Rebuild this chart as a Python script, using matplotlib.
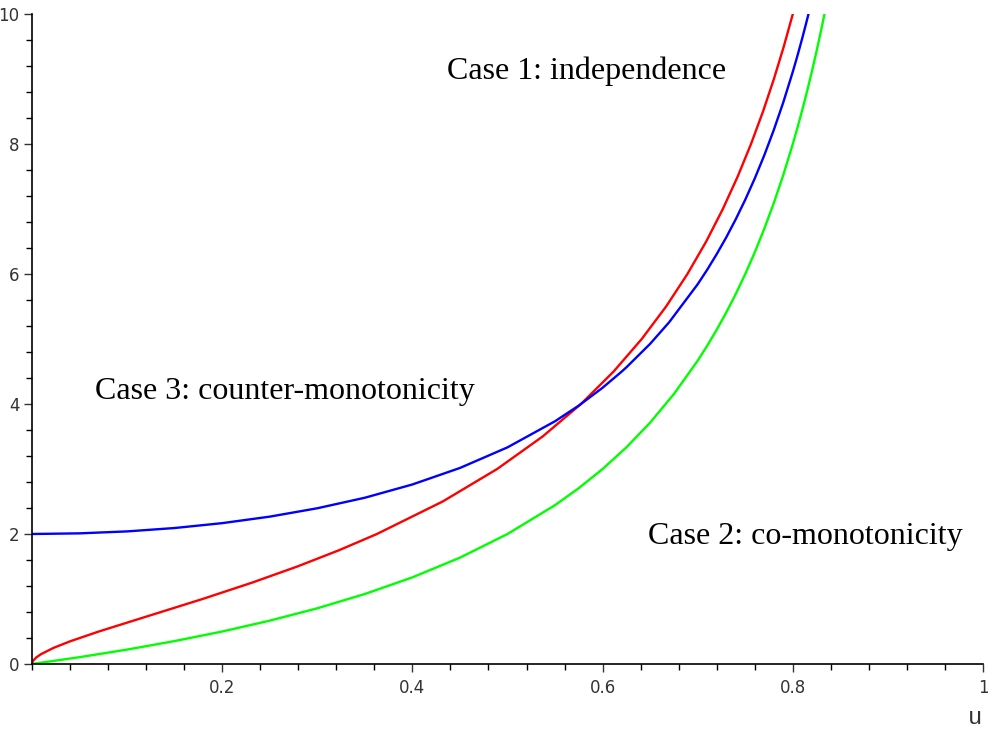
import matplotlib
matplotlib.use("Agg")
import matplotlib.pyplot as plt
from matplotlib.ticker import MultipleLocator

# Case 1: independence (red)
u_red = [0.0, 0.000195, 0.001171, 0.0044, 0.009297, 0.02295, 0.040252, 0.07025, 0.12473,
         0.17930, 0.231066, 0.27897, 0.322795, 0.36267, 0.43183, 0.48910, 0.53692,
         0.57725, 0.61161, 0.64115, 0.66678, 0.68919, 0.70893, 0.72643, 0.74205,
         0.75606, 0.76868, 0.78012, 0.79053, 0.80003]
v_red = [0.0, 0.02, 0.05, 0.1, 0.15, 0.25, 0.35, 0.5, 0.75, 1.0, 1.25, 1.5, 1.75, 2.0,
         2.5, 3.0, 3.5, 4.0, 4.5, 5.0, 5.5, 6.0, 6.5, 7.0, 7.5, 8.0, 8.5, 9.0, 9.5, 10.0]

# Case 3: counter-monotonicity (blue)
u_blue = [0.0, 0.05, 0.1, 0.15, 0.2, 0.25, 0.3, 0.35, 0.4, 0.45, 0.5, 0.55, 0.575, 0.6,
          0.62, 0.625, 0.65, 0.67, 0.7, 0.71, 0.72, 0.73, 0.74, 0.75, 0.76, 0.77, 0.78,
          0.79, 0.8, 0.805, 0.81, 0.8135, 0.8165]
v_blue = [2.0, 2.010, 2.040, 2.092, 2.167, 2.267, 2.396, 2.558, 2.762, 3.016, 3.333,
          3.735, 3.976, 4.25, 4.498, 4.564, 4.926, 5.258, 5.843, 6.066, 6.306, 6.563,
          6.842, 7.143, 7.470, 7.826, 8.215, 8.641, 9.111, 9.364, 9.631, 9.827, 10.0]

# Case 2: co-monotonicity (green)
u_green = [0.0, 0.05, 0.1, 0.15, 0.2, 0.25, 0.3, 0.35, 0.4, 0.45, 0.5, 0.55, 0.575, 0.6,
           0.625, 0.65, 0.675, 0.7, 0.71, 0.72, 0.73, 0.74, 0.75, 0.76, 0.77, 0.78,
           0.79, 0.8, 0.805, 0.81, 0.815, 0.82, 0.825, 0.83, 0.8333]
v_green = [0.0, 0.105, 0.222, 0.353, 0.5, 0.667, 0.857, 1.077, 1.333, 1.636, 2.0, 2.444,
           2.706, 3.0, 3.333, 3.714, 4.154, 4.667, 4.897, 5.143, 5.407, 5.692, 6.0,
           6.333, 6.696, 7.091, 7.524, 8.0, 8.256, 8.526, 8.811, 9.111, 9.429, 9.765, 10.0]

x_ticks = [0.2, 0.4, 0.6, 0.8, 1.0]
x_tick_labels = ["0.2", "0.4", "0.6", "0.8", "1"]
y_ticks = [0, 2, 4, 6, 8, 10]
y_tick_labels = ["0", "2", "4", "6", "8", "10"]

fig = plt.figure(figsize=(9.88, 7.38), dpi=100)
ax = fig.add_axes([32/988, 1-664/738, (983-32)/988, (664-14)/738])

ax.plot(u_green, v_green, color="#00ff00", lw=1.7)
ax.plot(u_red, v_red, color="#ff0000", lw=1.7)
ax.plot(u_blue, v_blue, color="#0000ff", lw=1.7)

ax.set_xlim(0, 1)
ax.set_ylim(0, 10)
for s in ["top", "right"]:
    ax.spines[s].set_visible(False)
for s in ["left", "bottom"]:
    ax.spines[s].set_linewidth(1.2)

ax.set_xticks(x_ticks)
ax.set_xticklabels(x_tick_labels)
ax.set_yticks(y_ticks)
ax.set_yticklabels(y_tick_labels)
ax.xaxis.set_minor_locator(MultipleLocator(0.04))
ax.yaxis.set_minor_locator(MultipleLocator(0.4))
ax.tick_params(which="major", length=6, width=1, labelsize=12, colors="#333333")
ax.tick_params(which="minor", length=4, width=1)
ax.tick_params(axis="x", pad=5)
ax.tick_params(axis="y", pad=3)

serif = dict(family="Liberation Serif", fontsize=23, color="black", va="center")
ax.text(0.436, 9.12, "Case 1: independence", **serif)
ax.text(0.066, 4.2, "Case 3: counter-monotonicity", **serif)
ax.text(0.648, 1.96, "Case 2: co-monotonicity", **serif)

fig.text(975/988, 1-718/738, "u", family="Liberation Mono", fontsize=17,
         ha="center", va="center", color="#333333")

fig.savefig("out.png", dpi=100)
